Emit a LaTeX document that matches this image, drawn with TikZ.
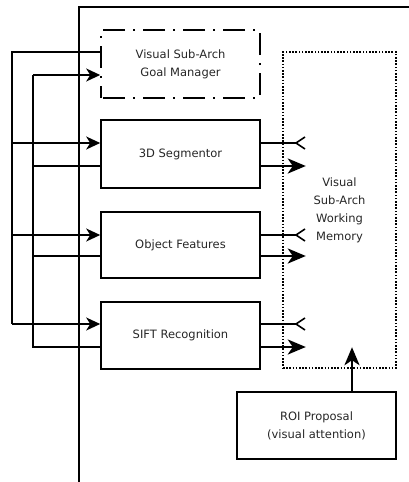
\documentclass[tikz,border=0pt]{standalone}
\usepackage{fontspec}
\setmainfont{DejaVu Sans}
\usetikzlibrary{arrows.meta}
\begin{document}
\begin{tikzpicture}[x=1pt,y=-1pt,
  box/.style={draw,line width=1.6pt,minimum width=159pt,align=center,font=\fontsize{11.5}{18}\selectfont,text=black!85},
  conn/.style={line width=1.6pt},
  inarrow/.style={conn,-{Stealth[length=14pt,width=13pt,inset=4pt]}},
  outarrow/.style={line width=2.6pt,-{Stealth[length=18pt,width=15pt,inset=5pt]}},
  backarrow/.style={conn,-{Straight Barb[reversed,length=9pt,width=12pt,line width=1.6pt]}}]
\useasboundingbox (0,0) rectangle (409,482);
% outer frame
\draw[line width=1.6pt] (79,482) coordinate (fa) -- (79,7) coordinate (fb) -- (409,7) coordinate (fc);
% boxes
\node[box,minimum height=68pt,dash pattern=on 22pt off 8pt on 2pt off 8pt,dash phase=-2pt] (gm) at (180.5,64) {Visual Sub-Arch\\Goal Manager};
\node[box,minimum height=68pt] (seg) at (180.5,154) {3D Segmentor};
\node[box,minimum height=66pt] (of) at (180.5,245) {Object Features};
\node[box,minimum height=67pt] (sift) at (180.5,335.5) {SIFT Recognition};
\node[draw,line width=1.6pt,dash pattern=on 1.6pt off 1.6pt,minimum width=113pt,minimum height=316pt,align=center,font=\fontsize{11.5}{18}\selectfont,text=black!85] (mem) at (339.5,210) {Visual\\Sub-Arch\\Working\\Memory};
\node[box,minimum height=67pt] (roi) at (316.5,425.5) {ROI Proposal\\(visual attention)};
% left trunk 1 (x=12)
\coordinate (t1a) at (12,52);
\coordinate (t1b) at (12,324);
\draw[conn] ([yshift=12pt]gm.west) -- (t1a) -- (t1b);
\draw[inarrow] (t1b) -- ([yshift=11.5pt]sift.west);
\draw[inarrow] (t1a |- 0,143) -- ([yshift=11pt]seg.west);
\draw[inarrow] (t1a |- 0,235) -- ([yshift=10pt]of.west);
% left trunk 2 (x=33)
\coordinate (t2a) at (33,75);
\coordinate (t2b) at (33,347);
\draw[inarrow] (t2a) -- ([yshift=-11pt]gm.west);
\draw[conn] (t2a) -- (t2b) -- ([yshift=-11.5pt]sift.west);
\draw[conn] (t2a |- 0,166) -- ([yshift=-12pt]seg.west);
\draw[conn] (t2a |- 0,256) -- ([yshift=-11pt]of.west);
% right side
\draw[backarrow] ([yshift=11pt]seg.east) -- ++(45,0);
\draw[outarrow] ([yshift=-12pt]seg.east) -- ++(45,0);
\draw[backarrow] ([yshift=10pt]of.east) -- ++(45,0);
\draw[outarrow] ([yshift=-11pt]of.east) -- ++(45,0);
\draw[backarrow] ([yshift=11.5pt]sift.east) -- ++(45,0);
\draw[outarrow] ([yshift=-11.5pt]sift.east) -- ++(45,0);
% ROI to memory
\draw[outarrow] ([xshift=35.5pt]roi.north) -- ++(0,-44);
\end{tikzpicture}
\end{document}
